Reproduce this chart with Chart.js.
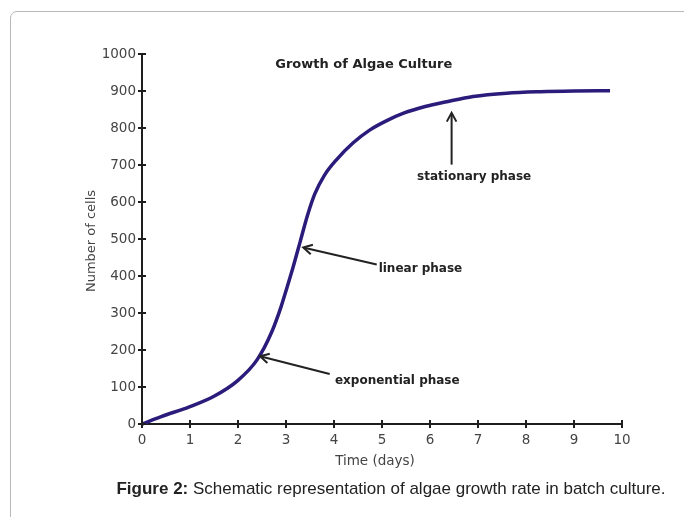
<!DOCTYPE html>
<html>
<head>
<meta charset="utf-8">
<script src="https://cdn.jsdelivr.net/npm/chart.js@4/dist/chart.umd.min.js"></script>
<style>
  html, body { margin: 0; padding: 0; background: #fff; width: 684px; height: 517px; overflow: hidden; }
  #frame { position: absolute; left: 10px; top: 11px; width: 720px; height: 560px;
           border: 1.5px solid #b8b8b8; border-radius: 7px; box-sizing: border-box; }
  #wrap { position: absolute; left: 0; top: 0; width: 684px; height: 517px; }
  #caption { position: absolute; left: 0; width: 782px; top: 479px; text-align: center;
             font-family: "Liberation Sans", Arial, sans-serif; font-size: 17px; color: #222; }
</style>
</head>
<body>
<div id="frame"></div>
<div id="wrap"><canvas id="c" width="684" height="517"></canvas></div>
<div id="caption"><b>Figure 2:</b> Schematic representation of algae growth rate in batch culture.</div>
<script>
// ---- data ----
const days  = [0, 0.4, 1.0, 1.5, 2.0, 2.4, 2.7, 2.9, 3.0, 3.15, 3.3, 3.45, 3.6, 3.8, 4.05, 4.4, 4.75, 5.1, 5.45, 5.9, 6.35, 6.9, 7.6, 8.3, 9.0, 9.75];
const cells = [0, 20, 47, 75, 118, 174, 248, 318, 360, 425, 495, 565, 622, 672, 714, 760, 795, 820, 840, 858, 871, 885, 894, 898, 900, 901];
const xTicks = [0, 1, 2, 3, 4, 5, 6, 7, 8, 9, 10];
const yTicks = [0, 100, 200, 300, 400, 500, 600, 700, 800, 900, 1000];
const chartTitle = 'Growth of Algae Culture';
const xTitle = 'Time (days)';
const yTitle = 'Number of cells';
// annotation labels (in data units: day, cells)
const noteTexts  = ['stationary phase', 'linear phase', 'exponential phase'];
const noteAt     = [[6.92, 668], [4.93, 420], [4.02, 116]];
const noteAlign  = ['center', 'left', 'left'];
const arrowFrom  = [[6.45, 701], [4.89, 431], [3.91, 135]];
const arrowTo    = [[6.45, 841], [3.36, 477], [2.46, 183]];
const titleAt    = [4.62, 970];

const FONT = '"DejaVu Sans", sans-serif';

const decor = {
  id: 'decor',
  afterDraw(chart) {
    const ctx = chart.ctx;
    const xs = chart.scales.x, ys = chart.scales.y;
    const ca = chart.chartArea;
    ctx.save();
    // crossing tick marks
    ctx.strokeStyle = '#1e1e1e';
    ctx.lineWidth = 2;
    ctx.beginPath();
    xTicks.forEach(v => {
      const px = Math.round(xs.getPixelForValue(v));
      ctx.moveTo(px, ca.bottom - 4); ctx.lineTo(px, ca.bottom + 4);
    });
    yTicks.forEach(v => {
      const py = Math.round(ys.getPixelForValue(v));
      ctx.moveTo(ca.left - 4, py); ctx.lineTo(ca.left + 4, py);
    });
    ctx.stroke();

    // axis titles
    ctx.fillStyle = '#444';
    ctx.font = '13.5px ' + FONT;
    ctx.textAlign = 'center';
    ctx.textBaseline = 'middle';
    ctx.fillText(xTitle, (ca.left + ca.right) / 2 - 7, ca.bottom + 37);
    ctx.save();
    ctx.translate(ca.left - 50, 241);
    ctx.rotate(-Math.PI / 2);
    ctx.font = '13px ' + FONT;
    ctx.fillText(yTitle, 0, 0);
    ctx.restore();

    // chart title
    ctx.fillStyle = '#222';
    ctx.font = 'bold 13px ' + FONT;
    ctx.fillText(chartTitle, xs.getPixelForValue(titleAt[0]), ys.getPixelForValue(titleAt[1]));

    // annotations
    ctx.font = 'bold 12px ' + FONT;
    noteTexts.forEach((t, i) => {
      ctx.textAlign = noteAlign[i];
      ctx.fillText(t, xs.getPixelForValue(noteAt[i][0]), ys.getPixelForValue(noteAt[i][1]));
      const x1 = xs.getPixelForValue(arrowFrom[i][0]), y1 = ys.getPixelForValue(arrowFrom[i][1]);
      const x2 = xs.getPixelForValue(arrowTo[i][0]),   y2 = ys.getPixelForValue(arrowTo[i][1]);
      const ang = Math.atan2(y2 - y1, x2 - x1);
      ctx.strokeStyle = '#222';
      ctx.lineWidth = 2;
      ctx.beginPath();
      ctx.moveTo(x1, y1); ctx.lineTo(x2 - 2 * Math.cos(ang), y2 - 2 * Math.sin(ang));
      ctx.stroke();
      const L = 10, W = 0.5;
      ctx.beginPath();
      ctx.moveTo(x2 - L * Math.cos(ang - W), y2 - L * Math.sin(ang - W));
      ctx.lineTo(x2, y2);
      ctx.lineTo(x2 - L * Math.cos(ang + W), y2 - L * Math.sin(ang + W));
      ctx.stroke();
    });
    ctx.restore();
  }
};

new Chart(document.getElementById('c'), {
  type: 'line',
  data: {
    datasets: [{
      data: days.map((d, i) => ({ x: d, y: cells[i] })),
      borderColor: '#2b1b7a',
      borderWidth: 3.5,
      pointRadius: 0,
      cubicInterpolationMode: 'monotone',
      fill: false,
      clip: false
    }]
  },
  options: {
    responsive: false,
    animation: false,
    events: [],
    layout: { padding: { left: 0, top: 54, right: 62, bottom: 0 } },
    plugins: { legend: { display: false }, title: { display: false }, tooltip: { enabled: false } },
    scales: {
      x: {
        type: 'linear', min: 0, max: 10,
        afterBuildTicks: s => { s.ticks = xTicks.map(v => ({ value: v })); },
        afterFit: s => { s.height = 93; },
        ticks: { color: '#444', font: { family: FONT, size: 13.5 }, padding: 8, autoSkip: false, maxRotation: 0,
                 callback: v => String(v) },
        grid: { drawOnChartArea: false, drawTicks: false },
        border: { display: true, color: '#1e1e1e', width: 2 }
      },
      y: {
        type: 'linear', min: 0, max: 1000,
        afterBuildTicks: s => { s.ticks = yTicks.map(v => ({ value: v })); },
        afterFit: s => { s.width = 142; },
        ticks: { color: '#444', font: { family: FONT, size: 13.5 }, padding: 6, autoSkip: false,
                 callback: v => String(v) },
        grid: { drawOnChartArea: false, drawTicks: false },
        border: { display: true, color: '#1e1e1e', width: 2 }
      }
    }
  },
  plugins: [decor]
});
</script>
</body>
</html>
